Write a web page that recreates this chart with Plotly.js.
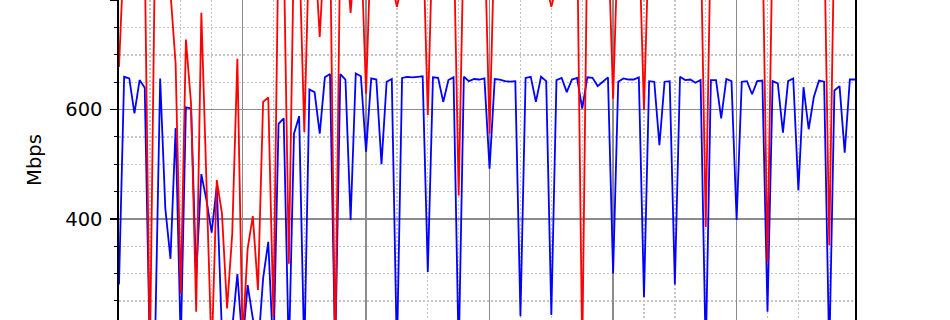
<!DOCTYPE html>
<html>
<head>
<meta charset="utf-8">
<script src="https://cdn.plot.ly/plotly-3.0.1.min.js"></script>
<style>
html,body{margin:0;padding:0;background:#fff;}
#chart{width:950px;height:320px;}
</style>
</head>
<body>
<div id="chart"></div>
<script>
// hourly samples (index = hour)
const blueSeries = [280,660,657,593,654,640,150,170,657,419,327,566,170,604,602,295,482,434,375,460,
190,160,200,299,170,279,218,160,291,358,150,574,584,150,556,588,150,637,632,556,
659,665,150,665,655,398,666,661,523,657,655,500,651,656,150,658,660,659,660,661,
303,659,658,614,654,659,150,660,652,656,655,657,492,656,655,652,651,652,222,658,
660,614,660,652,224,654,658,632,655,658,602,659,658,643,651,659,300,651,657,655,
655,659,257,652,651,535,651,652,280,660,654,655,649,654,150,654,654,584,656,652,
398,651,652,628,652,653,230,652,648,558,652,657,452,641,564,623,653,651,150,635,
643,521,655,655];
const redSeries = [678,900,920,910,900,890,140,900,880,850,815,684,263,728,611,230,777,465,150,471,
410,236,373,693,180,346,405,270,614,622,221,920,900,318,910,900,559,920,900,733,
910,930,150,920,900,777,900,910,629,920,900,890,880,830,788,830,880,900,920,940,
590,940,920,900,910,930,443,930,910,900,910,930,556,930,910,900,890,880,870,860,
860,850,850,830,788,830,870,900,910,930,150,930,910,900,910,930,620,930,910,900,
910,930,599,930,910,900,900,910,900,900,910,900,910,930,385,930,910,900,900,910,
900,900,910,900,910,930,320,930,910,900,900,910,900,900,910,900,910,930,352,930,
900,910,900,900];
const hours = blueSeries.map((_, i) => i);
const yTickVals = [400, 600, 800];
const yTickText = ['400', '600', '800'];
const yLabel = 'Mbps';

const traces = [
  {x: hours, y: blueSeries, type: 'scatter', mode: 'lines',
   line: {color: '#0000ff', width: 1.8}, hoverinfo: 'skip'},
  {x: hours, y: redSeries, type: 'scatter', mode: 'lines',
   line: {color: '#ff0000', width: 1.8}, hoverinfo: 'skip'}
];

const layout = {
  width: 950, height: 320,
  margin: {l: 119, r: 95, t: 0, b: 0, pad: 0},
  paper_bgcolor: '#ffffff', plot_bgcolor: '#ffffff',
  showlegend: false,
  font: {family: 'DejaVu Sans, sans-serif', size: 19.5, color: '#000'},
  xaxis: {
    range: [0, 143], tick0: 0, dtick: 24, showticklabels: false, ticks: '',
    showgrid: true, gridcolor: '#8c8c8c', gridwidth: 1.5, zeroline: false,
    showline: false,
    minor: {dtick: 6, showgrid: true, gridcolor: '#c4c4c4', gridwidth: 1.3, griddash: '1.5px,2.5px', ticks: ''}
  },
  yaxis: {
    range: [215, 800.5], tickmode: 'array', tickvals: yTickVals, ticktext: yTickText,
    ticks: 'outside', ticklen: 7, tickwidth: 1.4, tickcolor: '#000',
    showgrid: true, gridcolor: '#8c8c8c', gridwidth: 1.5, zeroline: false,
    showline: true, linecolor: '#000', linewidth: 1.6, mirror: true,
    ticklabelstandoff: 4,
    tickfont: {family: 'DejaVu Sans, sans-serif', size: 19.5, color: '#000'},
    minor: {tickmode: 'linear', tick0: 0, dtick: 50, ticks: 'outside', ticklen: 3.5, tickwidth: 1.1, tickcolor: '#000',
            showgrid: true, gridcolor: '#c4c4c4', gridwidth: 1.3, griddash: '1.5px,2.5px'},
    title: {text: yLabel, standoff: 18, font: {family: 'DejaVu Sans, sans-serif', size: 19.5, color: '#000'}}
  }
};

Plotly.newPlot('chart', traces, layout, {staticPlot: true, displayModeBar: false});
</script>
</body>
</html>
